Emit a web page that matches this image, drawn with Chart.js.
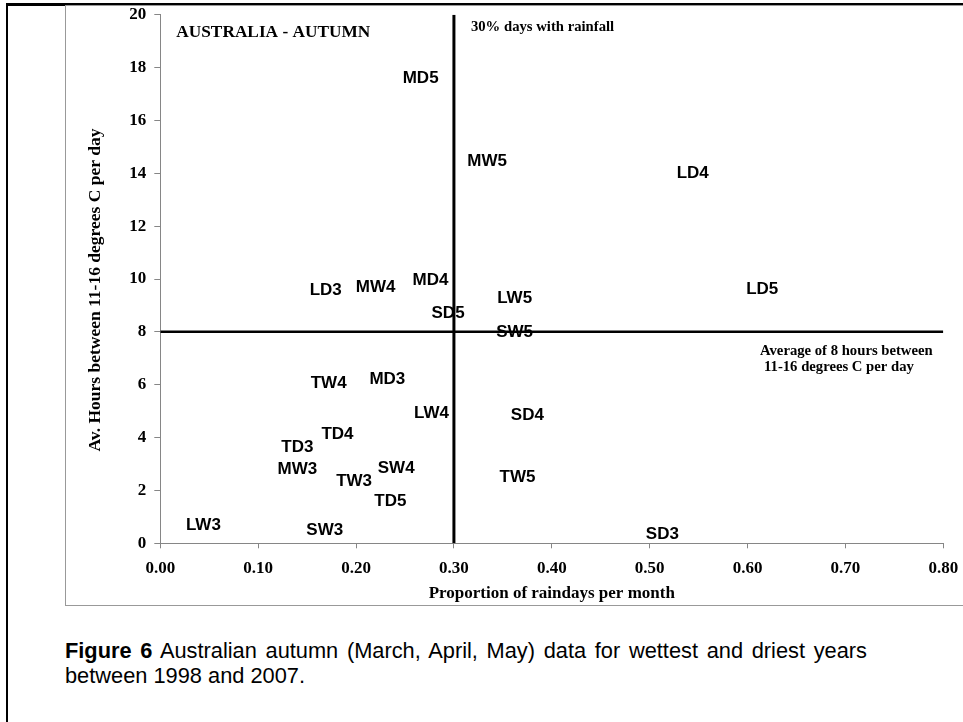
<!DOCTYPE html>
<html lang="en">
  <head>
    <meta charset="UTF-8" />
    <script src="https://cdn.jsdelivr.net/npm/chart.js"></script>
    <title>Australia - Autumn</title>
    <style>
      * {
        padding: 0;
        margin: 0;
        box-sizing: border-box;
      }
      body {
        width: 963px;
        height: 722px;
        overflow: hidden;
        background-color: #fff;
        position: relative;
      }
      .outer {
        position: absolute;
        left: 6px;
        top: 3px;
        width: 980px;
        height: 740px;
        border-left: 2px solid #000;
        border-top: 3px solid #000;
      }
      .frame {
        position: absolute;
        left: 65px;
        top: 5px;
        width: 920px;
        height: 601px;
        border: 1px solid #999;
      }
      .chart-box {
        position: absolute;
        left: 0;
        top: 0;
        width: 963px;
        height: 610px;
      }
      .caption {
        position: absolute;
        left: 65px;
        top: 638px;
        width: 802px;
        font-family: 'Liberation Sans', Arial, sans-serif;
        font-size: 21.8px;
        line-height: 25px;
        color: #000;
      }
      .caption .line1 {
        text-align: justify;
        text-align-last: justify;
      }
    </style>
  </head>
  <body>
    <div class="outer"></div>
    <div class="frame"></div>
    <div class="chart-box">
      <canvas id="myChart"></canvas>
    </div>
    <div class="caption">
      <div class="line1"><b>Figure 6</b> Australian autumn (March, April, May) data for wettest and driest years</div>
      <div>between 1998 and 2007.</div>
    </div>
    <script>
      // site/year codes and their values
      const names = ['MD5', 'MW5', 'LD4', 'LD3', 'MW4', 'MD4', 'LD5', 'LW5', 'SD5', 'SW5', 'TW4', 'MD3', 'LW4', 'SD4', 'TD4', 'TD3', 'MW3', 'SW4', 'TW3', 'TW5', 'TD5', 'LW3', 'SW3', 'SD3'];
      const rainProp = [0.266, 0.334, 0.544, 0.169, 0.22, 0.276, 0.615, 0.362, 0.294, 0.362, 0.172, 0.232, 0.277, 0.375, 0.181, 0.14, 0.14, 0.241, 0.198, 0.365, 0.235, 0.044, 0.168, 0.513];
      const hours = [17.58, 14.44, 14.0, 9.56, 9.67, 9.94, 9.62, 9.27, 8.7, 7.98, 6.05, 6.2, 4.92, 4.85, 4.12, 3.62, 2.81, 2.84, 2.36, 2.48, 1.59, 0.67, 0.5, 0.34];

      const xTicks = [0, 0.1, 0.2, 0.3, 0.4, 0.5, 0.6, 0.7, 0.8];
      const yTicks = [0, 2, 4, 6, 8, 10, 12, 14, 16, 18, 20];
      const rainLine = 0.3;
      const hourLine = 8;

      const serif = "'Liberation Serif', 'Times New Roman', serif";
      const sans = "'Liberation Sans', Arial, sans-serif";

      const points = names.map((n, i) => ({ x: rainProp[i], y: hours[i] }));

      // no label overflow padding, the plot box is fixed by layout.padding
      const noPad = (s) => {
        s.paddingLeft = 0;
        s.paddingRight = 0;
        s.paddingTop = 0;
        s.paddingBottom = 0;
      };

      const labelPlugin = {
        id: 'codeLabels',
        beforeDatasetsDraw(chart) {
          const ctx = chart.ctx;
          const meta = chart.getDatasetMeta(0);
          ctx.save();
          ctx.font = 'bold 17px ' + sans;
          ctx.fillStyle = '#000';
          ctx.textAlign = 'center';
          ctx.textBaseline = 'middle';
          meta.data.forEach((pt, i) => {
            ctx.fillText(names[i], pt.x, pt.y);
          });
          ctx.restore();
        },
        afterDraw(chart) {
          const ctx = chart.ctx;
          const xs = chart.scales.x;
          const ys = chart.scales.y;
          ctx.save();
          ctx.fillStyle = '#000';
          ctx.textBaseline = 'middle';
          ctx.textAlign = 'left';
          ctx.font = 'bold 17.3px ' + serif;
          ctx.fillText('AUSTRALIA - AUTUMN', chart.chartArea.left + 16, 33);
          ctx.font = 'bold 14.7px ' + serif;
          ctx.fillText('30% days with rainfall', xs.getPixelForValue(rainLine) + 17, 27);
          ctx.fillText('Average of 8 hours between', 760, ys.getPixelForValue(hourLine) + 19);
          ctx.fillText('11-16 degrees C per day', 764, ys.getPixelForValue(hourLine) + 35);
          ctx.restore();
        },
      };

      const config = {
        type: 'scatter',
        data: {
          datasets: [
            {
              data: points,
              pointRadius: 0,
              pointHoverRadius: 0,
            },
            {
              data: [
                { x: rainLine, y: yTicks[0] },
                { x: rainLine, y: yTicks[yTicks.length - 1] },
              ],
              showLine: true,
              borderColor: '#000',
              borderWidth: 3,
              pointRadius: 0,
            },
            {
              data: [
                { x: xTicks[0], y: hourLine },
                { x: xTicks[xTicks.length - 1], y: hourLine },
              ],
              showLine: true,
              borderColor: '#000',
              borderWidth: 2.5,
              pointRadius: 0,
            },
          ],
        },
        options: {
          responsive: true,
          maintainAspectRatio: false,
          animation: false,
          events: [],
          layout: {
            padding: { left: 0, top: 14.7, right: 19.7, bottom: 0 },
          },
          plugins: {
            legend: { display: false },
            tooltip: { enabled: false },
          },
          scales: {
            x: {
              type: 'linear',
              min: xTicks[0],
              max: xTicks[xTicks.length - 1],
              afterBuildTicks: (s) => {
                s.ticks = xTicks.map((v) => ({ value: v }));
              },
              afterFit: (s) => {
                s.height = 66.7;
                noPad(s);
              },
              ticks: {
                color: '#000',
                font: { family: serif, size: 17, weight: 'bold' },
                padding: 10,
                callback: (v) => Number(v).toFixed(2),
              },
              grid: {
                drawOnChartArea: false,
                tickLength: 5,
                color: '#868686',
              },
              border: { color: '#868686', width: 1 },
              title: {
                display: true,
                text: 'Proportion of raindays per month',
                color: '#000',
                font: { family: serif, size: 17, weight: 'bold' },
                padding: { top: 0, bottom: 6.5 },
              },
            },
            y: {
              type: 'linear',
              min: yTicks[0],
              max: yTicks[yTicks.length - 1],
              afterBuildTicks: (s) => {
                s.ticks = yTicks.map((v) => ({ value: v }));
              },
              afterFit: (s) => {
                s.width = 160.3;
                noPad(s);
              },
              ticks: {
                color: '#000',
                font: { family: serif, size: 17, weight: 'bold' },
                padding: 8,
              },
              grid: {
                drawOnChartArea: false,
                tickLength: 6,
                color: '#868686',
              },
              border: { color: '#868686', width: 1 },
              title: {
                display: true,
                text: 'Av. Hours between 11-16 degrees C per day\u00a0\u00a0\u00a0\u00a0\u00a0',
                color: '#000',
                font: { family: serif, size: 17.5, weight: 'bold' },
                padding: { top: 84.5, bottom: 0 },
              },
            },
          },
        },
        plugins: [labelPlugin],
      };

      const myChart = new Chart(document.getElementById('myChart'), config);
    </script>
  </body>
</html>
